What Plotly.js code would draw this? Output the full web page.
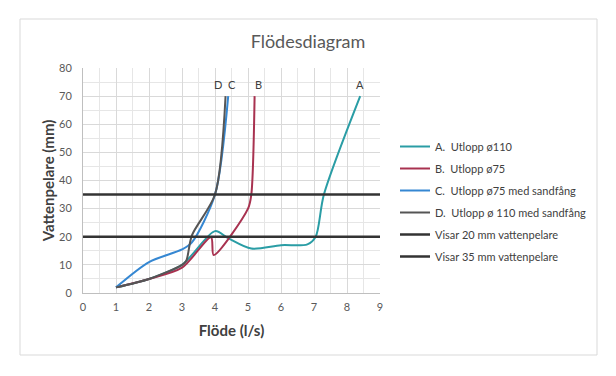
<!DOCTYPE html>
<html><head><meta charset="utf-8">
<script src="https://cdn.plot.ly/plotly-3.0.1.min.js"></script>
<style>body{margin:0;background:#fff}#c{width:616px;height:376px}</style>
</head><body><div id="c"></div>
<script>
const seriesNames = ["A.\u00a0 Utlopp ø110", "B.\u00a0 Utlopp ø75", "C.\u00a0 Utlopp ø75 med sandfång", "D.\u00a0 Utlopp ø 110 med sandfång"];
const seriesColors = ["#2A9DA5", "#A83250", "#3587D2", "#555555"];
const aX = [1, 2, 3, 4, 4.4, 5.1, 6, 6.8, 7.05, 7.3, 8.4];
const aY = [2, 5, 10, 22, 19.5, 15.8, 17, 17.3, 20, 35, 70];
const bX = [1, 2, 3, 3.88, 3.96, 5, 5.1, 5.2];
const bY = [2, 5, 9, 19.8, 13.5, 30, 35, 70];
const cX = [1, 2, 3, 3.3, 4, 4.4];
const cY = [2, 11, 15.5, 18, 35, 70];
const dX = [1, 2, 3, 3.13, 3.3, 4, 4.32];
const dY = [2, 5, 10, 11.5, 20.5, 35, 70];
const refNames = ["Visar 20 mm vattenpelare", "Visar 35 mm vattenpelare"];
const refX = [0, 9];
const refLevels = [20, 35];
const labelText = ["D", "C", "B", "A"];
const labelX = [4.1, 4.53, 5.33, 8.39];
const labelY = [74.3, 74.3, 74.3, 74.3];
const xTicks = [0,1,2,3,4,5,6,7,8,9];
const yTicks = [0,10,20,30,40,50,60,70,80];

const xs = [aX,bX,cX,dX], ys=[aY,bY,cY,dY];
const traces = [];
for (let i=0;i<4;i++){
  traces.push({x:xs[i], y:ys[i], name:seriesNames[i], mode:'lines', legendgroup:'g'+i,
    line:{color:seriesColors[i], width:2, shape:'spline', smoothing:0.8}});
}
for (let i=0;i<2;i++){
  traces.push({x:refX, y:refX.map(()=>refLevels[i]), name:refNames[i], mode:'lines', legendgroup:'r'+i,
    line:{color:'#333333', width:2.5}});
}
const F = 'Lato, "Open Sans", sans-serif';
const L = 83, R = 236, T = 68, B = 83, W = 616, H = 376;
const pw = W-L-R, ph = H-T-B;
const px = v => (v-L)/pw, py = v => (H-B-v)/ph;
const layout = {
  width:W, height:H, margin:{l:L,r:R,t:T,b:B}, paper_bgcolor:'#fff', plot_bgcolor:'#fff',
  font:{family:F, size:11, color:'#595959'},
  title:{text:'Flödesdiagram', font:{family:F,size:18,color:'#595959'}, x:0.5, xref:'container', xanchor:'center', y:(H-42)/H, yref:'container', yanchor:'middle'},
  xaxis:{range:[0,9], tickvals:xTicks, ticktext:xTicks.map(String), showgrid:true, gridcolor:'#d9d9d9', gridwidth:1,
    minor:{dtick:0.5, showgrid:true, gridcolor:'#e6e6e6', gridwidth:1}, showline:true, linecolor:'#bfbfbf', linewidth:1,
    zeroline:false, ticks:'', ticklabelstandoff:4, tickfont:{size:11,color:'#595959'},
    title:{text:'Flöde (l/s)', font:{family:F,size:15,color:'#404040', weight:'bold'}, standoff:13}, automargin:false},
  yaxis:{range:[0,80], tickvals:yTicks, ticktext:yTicks.map(String), showgrid:true, gridcolor:'#d9d9d9', gridwidth:1,
    minor:{dtick:5, showgrid:true, gridcolor:'#e6e6e6', gridwidth:1}, showline:true, linecolor:'#bfbfbf', linewidth:1,
    zeroline:false, ticks:'', ticklabelstandoff:8, tickfont:{size:11,color:'#595959'},
    title:{text:'Vattenpelare (mm)', font:{family:F,size:15,color:'#404040', weight:'bold'}, standoff:0}, automargin:false},
  legend:{x:px(395), xanchor:'left', y:py(132), yanchor:'top', traceorder:'grouped', tracegroupgap:3,
    font:{family:F,size:11,color:'#404040'}, bgcolor:'rgba(0,0,0,0)', itemwidth:30},
  showlegend:true,
  annotations: labelText.map((t,i)=>({x:labelX[i], y:labelY[i], text:t, showarrow:false, xref:'x', yref:'y',
    font:{family:F,size:11,color:'#404040'}})),
  shapes:[{type:'rect', xref:'paper', yref:'paper', x0:px(20), x1:px(597), y0:py(355), y1:py(19),
    line:{color:'#d9d9d9', width:1}, layer:'below'}]
};
Plotly.newPlot('c', traces, layout, {staticPlot:true, displayModeBar:false});
</script></body></html>
